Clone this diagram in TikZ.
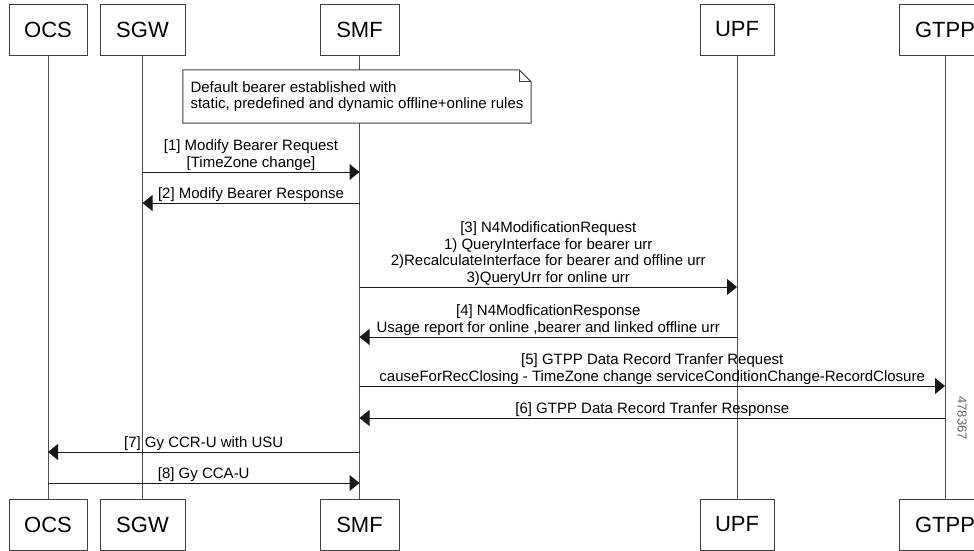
\documentclass[tikz,border=0pt]{standalone}
\usepackage{fontspec}
\setmainfont{Liberation Sans}
\usetikzlibrary{positioning}
\usetikzlibrary{arrows.meta}
\tikzset{
    entity/.style = {rectangle, draw=black!75, line width=1pt, minimum width=78pt, minimum height=51pt, inner sep=0pt, font=\fontsize{22}{26}\selectfont},
    lifeline/.style = {draw=black!70, line width=1pt},
    msg/.style = {-{Triangle[length=10pt,width=16pt]}, line width=1pt, draw=black!90},
    msgtext/.style = {above, inner sep=1pt, align=center, font=\fontsize{15}{16.5}\selectfont},
    notetext/.style = {fill=white, minimum width=348pt, minimum height=53pt, inner xsep=0pt, align=left, font=\fontsize{15}{16}\selectfont},
    notebox/.style = {draw=black!75, line width=1pt}, % dog-ear note
}

\begin{document}
\begin{tikzpicture}[x=1pt, y=-1pt]

  \useasboundingbox (0,0) rectangle (974,550);
  \clip (0,0) rectangle (974,550);

  % top row
  \node[entity] (ocs) at (48,29.5) {OCS};
  \node[entity, minimum width=85pt, right=12pt of ocs] (sgw) {SGW};
  \node[entity, minimum width=79pt, right=134pt of sgw] (smf) {SMF};
  \node[entity, minimum width=74pt, right=300pt of smf] (upf) {UPF};
  \node[entity, minimum width=92pt, right=124pt of upf] (gtpp) {GTPP};

  % bottom row
  \node[entity, below=443pt of ocs] (ocsb) {OCS};
  \node[entity, minimum width=85pt, below=443pt of sgw] (sgwb) {SGW};
  \node[entity, minimum width=79pt, below=443pt of smf] (smfb) {SMF};
  \node[entity, minimum width=74pt, below=443pt of upf] (upfb) {UPF};
  \node[entity, minimum width=92pt, below=443pt of gtpp] (gtppb) {GTPP};

  \draw[lifeline] (ocs) -- (ocsb);
  \draw[lifeline] (sgw) -- (sgwb);
  \draw[lifeline] (smf) -- (smfb);
  \draw[lifeline] (upf) -- (upfb);
  \draw[lifeline] (gtpp) -- (gtppb);

  \node[notetext] (note) at (357,96.5)
    {Default bearer established with\\static, predefined and dynamic offline+online rules};
  \draw[notebox] (note.north west) -- ([xshift=-12pt]note.north east)
    -- ([yshift=-12pt]note.north east) -- (note.south east) -- (note.south west) -- cycle;
  \draw[notebox] ([xshift=-12pt]note.north east) -- ([xshift=-12pt,yshift=-12pt]note.north east)
    -- ([yshift=-12pt]note.north east);

  \coordinate (m1) at (0,172);
  \coordinate (m2) at (0,203);
  \coordinate (m3) at (0,287);
  \coordinate (m4) at (0,337);
  \coordinate (m5) at (0,386);
  \coordinate (m6) at (0,418);
  \coordinate (m7) at (0,452);
  \coordinate (m8) at (0,483);

  \draw[msg] (sgw |- m1) -- node[msgtext] {[1] Modify Bearer Request\\\relax[TimeZone change]} (smf |- m1);
  \draw[msg] (smf |- m2) -- node[msgtext] {[2] Modify Bearer Response} (sgw |- m2);
  \draw[msg] (smf |- m3) -- node[msgtext] {[3] N4ModificationRequest\\1) QueryInterface for bearer urr\\2)RecalculateInterface for bearer and offline urr\\3)QueryUrr for online urr} (upf |- m3);
  \draw[msg] (upf |- m4) -- node[msgtext] {[4] N4ModficationResponse\\Usage report for online ,bearer and linked offline urr} (smf |- m4);
  \draw[msg] (smf |- m5) -- node[msgtext] {[5] GTPP Data Record Tranfer Request\\causeForRecClosing - TimeZone change serviceConditionChange-RecordClosure} (gtpp |- m5);
  \draw[msg] (gtpp |- m6) -- node[msgtext] {[6] GTPP Data Record Tranfer Response} (smf |- m6);
  \draw[msg] (smf |- m7) -- node[msgtext] {[7] Gy CCR-U with USU} (ocs |- m7);
  \draw[msg] (ocs |- m8) -- node[msgtext] {[8] Gy CCA-U} (smf |- m8);

  \node[rotate=-90, text=black!60, font=\fontsize{13}{13}\selectfont] (fignum) at (962,418) {478367};

\end{tikzpicture}
\end{document}
